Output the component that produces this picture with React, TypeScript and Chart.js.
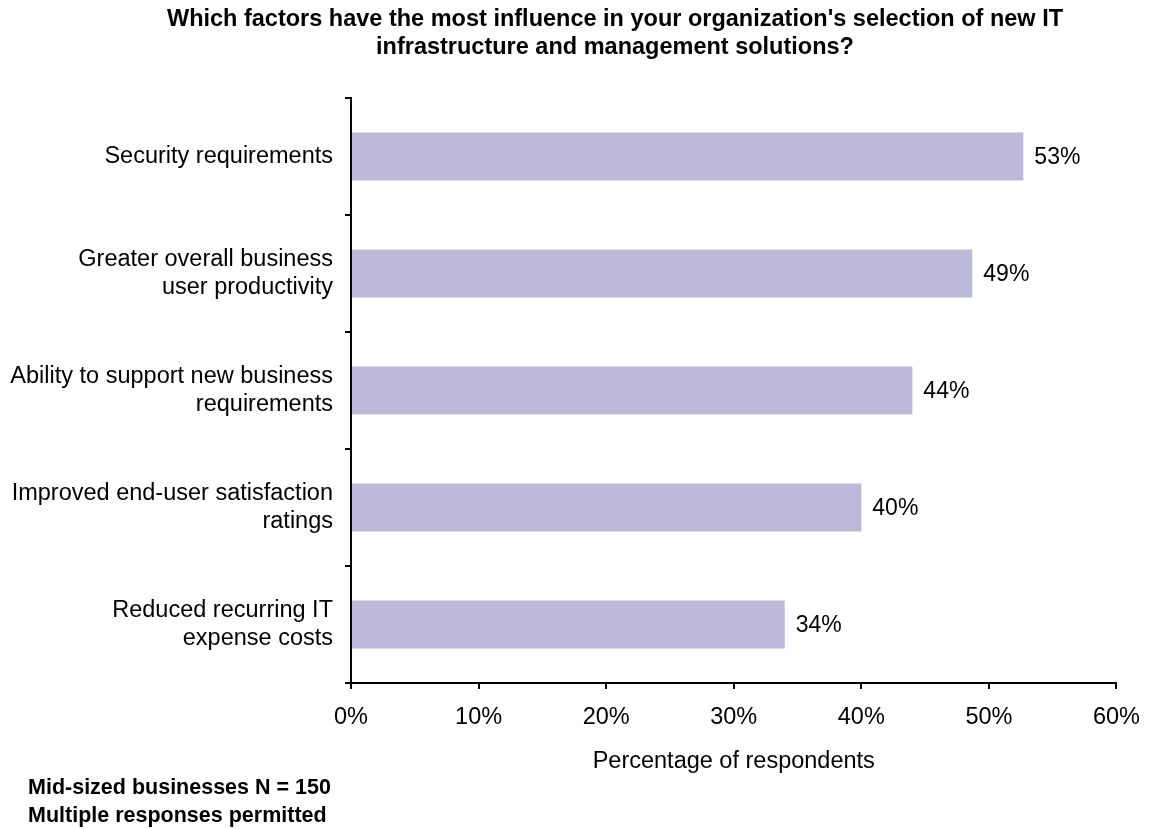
import React, { useEffect, useRef } from "react";
import { Chart, registerables } from "chart.js";

Chart.register(...registerables);

const categories: (string | string[])[] = [
  "Security requirements",
  ["Greater overall business", "user productivity"],
  ["Ability to support new business", "requirements"],
  ["Improved end-user satisfaction", "ratings"],
  ["Reduced recurring IT", "expense costs"],
];
const values = [52.7, 48.7, 44, 40, 34];
const titleLines = [
  "Which factors have the most influence in your organization's selection of new IT",
  "infrastructure and management solutions?",
];
const footerLines = ["Mid-sized businesses N = 150", "Multiple responses permitted"];
const xAxisTitle = "Percentage of respondents";

const FONT = "'Liberation Sans', Arial, sans-serif";

export default function App() {
  const ref = useRef<HTMLCanvasElement | null>(null);
  useEffect(() => {
    if (!ref.current) return;
    const textPlugin = {
      id: "texts",
      afterDraw(chart: any) {
        const ctx = chart.ctx;
        ctx.save();
        ctx.fillStyle = "#000";
        ctx.textBaseline = "middle";
        ctx.font = `bold 23.5px ${FONT}`;
        ctx.textAlign = "center";
        ctx.fillText(titleLines[0], 615, 20);
        ctx.fillText(titleLines[1], 615, 48);
        ctx.font = `bold 21.5px ${FONT}`;
        ctx.textAlign = "left";
        ctx.fillText(footerLines[0], 28, 788);
        ctx.fillText(footerLines[1], 28, 816);
        // value labels
        ctx.font = `23px ${FONT}`;
        const meta = chart.getDatasetMeta(0);
        meta.data.forEach((bar: any, i: number) => {
          ctx.fillText(Math.round(values[i]) + "%", bar.x + 11, bar.y + 1);
        });
        ctx.restore();
      },
    };
    const chart = new Chart(ref.current, {
      type: "bar",
      data: {
        labels: categories,
        datasets: [
          {
            data: values,
            backgroundColor: "#BDB9D8",
            borderWidth: 0,
            barPercentage: 0.41,
            categoryPercentage: 1,
          },
        ],
      },
      options: {
        indexAxis: "y",
        responsive: false,
        animation: false,
        layout: { padding: { top: 98, right: 37, left: 0, bottom: 0 } },
        plugins: {
          legend: { display: false },
          title: { display: false },
          tooltip: { enabled: false },
        },
        scales: {
          y: {
            afterFit(scale: any) {
              scale.width = 351;
            },
            border: { color: "#000", width: 2 },
            grid: {
              drawOnChartArea: false,
              drawTicks: true,
              tickLength: 6,
              color: "#000",
              lineWidth: 2,
            },
            ticks: {
              color: "#000",
              padding: 12,
              font: { family: FONT, size: 23.5, lineHeight: 1.2 },
            },
          },
          x: {
            min: 0,
            max: 60,
            afterFit(scale: any) {
              scale.height = 146;
            },
            border: { color: "#000", width: 2 },
            grid: {
              drawOnChartArea: false,
              drawTicks: true,
              tickLength: 6,
              color: "#000",
              lineWidth: 2,
            },
            ticks: {
              stepSize: 10,
              color: "#000",
              padding: 14,
              maxRotation: 0,
              font: { family: FONT, size: 23.5 },
              callback: (v: any) => v + "%",
            },
            title: {
              display: true,
              text: xAxisTitle,
              color: "#000",
              font: { family: FONT, size: 23.5 },
              padding: { top: 0, bottom: 53 },
            },
          },
        },
      },
      plugins: [textPlugin],
    });
    return () => chart.destroy();
  }, []);
  return (
    <div style={{ position: "absolute", left: 0, top: 0, width: 1154, height: 829, background: "#fff" }}>
      <canvas ref={ref} width={1154} height={829} />
    </div>
  );
}
